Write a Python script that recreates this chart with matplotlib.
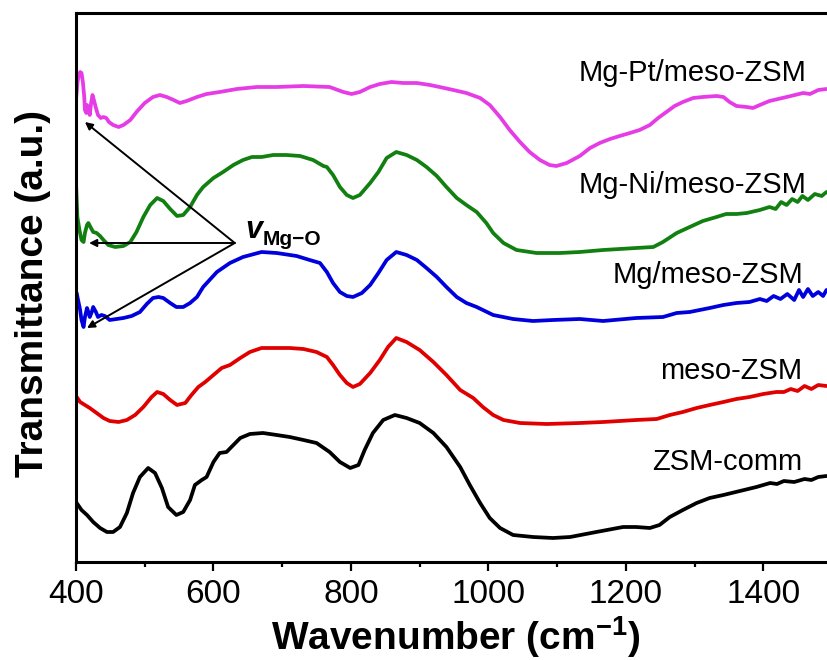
import numpy as np
from matplotlib import pyplot as plt

'''
FTIR spectra of the ZSM samples, stacked with offsets (values read off the figure)
'''

plt.rcParams['font.family'] = ['Liberation Sans', 'DejaVu Sans']
plt.rcParams['mathtext.fontset'] = 'custom'
plt.rcParams['mathtext.rm'] = 'Liberation Sans:bold'
plt.rcParams['mathtext.bf'] = 'Liberation Sans:bold'
plt.rcParams['mathtext.default'] = 'bf'

###########################################
# Data (wavenumber in cm-1, transmittance in a.u. incl. offset)
###########################################

wn_comm = [401, 408, 416, 425, 435, 445, 454, 464, 474, 483, 493, 505, 515, 525, 534, 546, 556, 566,
           573, 583, 590, 600, 609, 619, 629, 639, 653, 672, 692, 711, 731, 750, 769, 784, 799,
           811, 820, 832, 847, 864, 881, 900, 920, 939, 959, 973, 988, 1002, 1017, 1036, 1065,
           1094, 1119, 1157, 1196, 1215, 1235, 1249, 1264, 1283, 1303, 1322, 1342, 1366, 1390,
           1400, 1410, 1420, 1430, 1445, 1460, 1470, 1480, 1492]
t_comm = [59, 52, 47, 40, 34, 30, 30, 35, 49, 69, 85, 94, 89, 74, 55, 47, 50, 62,
          77, 82, 85, 100, 109, 110, 117, 124, 128, 129, 127, 125, 122, 119, 110, 100, 94,
          97, 112, 129, 142, 147, 144, 139, 129, 115, 95, 77, 59, 44, 34, 27, 25,
          24, 25, 30, 35, 35, 34, 37, 45, 52, 59, 64, 67, 71, 75,
          77, 79, 78, 81, 80, 83, 82, 85, 86]

wn_meso = [401, 406, 413, 420, 430, 440, 449, 462, 474, 486, 498, 510, 518, 527, 537, 547, 559, 568,
           578, 588, 600, 612, 624, 639, 653, 670, 692, 711, 731, 750, 765, 774, 784, 794, 803,
           813, 828, 842, 854, 866, 881, 900, 920, 939, 959, 978, 992, 1007, 1022, 1046, 1085,
           1133, 1167, 1215, 1245, 1264, 1283, 1303, 1322, 1342, 1361, 1380, 1400, 1419, 1430,
           1440, 1450, 1460, 1470, 1480, 1492]
t_meso = [165, 160, 157, 154, 149, 144, 141, 140, 142, 147, 155, 165, 170, 168, 162, 157, 159, 167,
          175, 180, 187, 194, 197, 204, 210, 214, 214, 214, 213, 210, 205, 197, 187, 179, 175,
          178, 189, 202, 215, 224, 220, 212, 200, 187, 172, 164, 155, 147, 142, 139, 138,
          139, 140, 142, 143, 147, 150, 154, 157, 160, 163, 165, 168, 170, 170,
          173, 171, 176, 173, 177, 176]

wn_mg = [401, 403, 406, 408, 411, 413, 416, 418, 420, 423, 425, 429, 432, 437, 442, 449, 459, 469,
         481, 493, 503, 512, 520, 527, 537, 546, 556, 566, 576, 585, 605, 624, 643, 670, 692,
         721, 740, 755, 765, 774, 784, 794, 803, 816, 828, 840, 852, 866, 881, 896, 910, 925,
         939, 954, 968, 983, 1007, 1036, 1065, 1094, 1133, 1167, 1215, 1254, 1274, 1293, 1322,
         1342, 1361, 1380, 1395, 1405, 1415, 1425, 1435, 1445, 1452, 1458, 1465, 1472, 1480,
         1487, 1492]
t_mg = [269, 262, 252, 242, 235, 245, 254, 250, 245, 250, 255, 250, 245, 247, 246, 242, 243, 244,
        246, 250, 258, 264, 265, 264, 259, 255, 255, 259, 265, 275, 290, 299, 305, 310, 309,
        306, 302, 299, 290, 279, 270, 266, 265, 269, 277, 289, 302, 310, 307, 302, 294, 285,
        275, 265, 259, 255, 247, 243, 241, 242, 243, 241, 244, 245, 249, 250, 254,
        257, 259, 260, 263, 261, 266, 263, 268, 262, 272, 265, 273, 266, 270,
        266, 272]

wn_ni = [400, 401, 402, 405, 408, 411, 413, 416, 418, 421, 425, 430, 435, 440, 447, 457, 469, 479,
         488, 498, 508, 518, 527, 537, 547, 556, 566, 576, 585, 600, 614, 629, 643, 656, 670,
         687, 706, 726, 745, 760, 765, 774, 784, 794, 803, 813, 828, 840, 852, 866, 881, 896,
         910, 925, 939, 954, 968, 983, 997, 1007, 1022, 1041, 1070, 1104, 1133, 1167, 1215,
         1240, 1254, 1274, 1293, 1312, 1332, 1346, 1361, 1376, 1395, 1409, 1418, 1426, 1434,
         1442, 1450, 1457, 1465, 1475, 1485, 1492]
t_ni = [379, 362, 345, 332, 322, 320, 329, 337, 339, 335, 330, 329, 326, 322, 317, 315, 316, 320,
        330, 345, 357, 364, 361, 353, 346, 347, 355, 367, 375, 384, 390, 397, 402, 405, 405,
        407, 407, 406, 402, 396, 395, 387, 375, 367, 364, 367, 379, 390, 404, 410, 407, 402,
        395, 386, 375, 364, 357, 350, 339, 329, 319, 312, 309, 309, 310, 312, 314,
        315, 320, 329, 335, 341, 345, 348, 348, 349, 352, 355, 353, 360, 357,
        363, 360, 366, 362, 368, 366, 370]

wn_pt = [400, 402, 404, 406, 408, 410, 412, 413, 415, 416, 418, 420, 422, 424, 426, 429, 432, 436,
         440, 444, 448, 454, 462, 469, 479, 488, 500, 512, 522, 532, 542, 551, 561, 576, 590,
         609, 634, 663, 692, 731, 769, 789, 801, 813, 828, 842, 859, 876, 896, 915, 929, 949,
         968, 988, 1002, 1017, 1031, 1046, 1060, 1075, 1089, 1099, 1114, 1133, 1148, 1162, 1177,
         1191, 1206, 1220, 1235, 1247, 1259, 1271, 1283, 1298, 1312, 1332, 1342, 1351, 1361,
         1376, 1385, 1395, 1409, 1434, 1458, 1468, 1480, 1492]
t_pt = [462, 479, 487, 490, 489, 480, 465, 452, 449, 457, 454, 447, 459, 467, 462, 454, 447, 444,
        445, 444, 440, 437, 435, 437, 442, 450, 459, 465, 467, 465, 462, 459, 461, 465, 468,
        470, 473, 475, 475, 476, 475, 470, 468, 470, 475, 478, 480, 479, 479, 477, 475, 472,
        469, 464, 457, 445, 432, 420, 410, 402, 397, 396, 399, 406, 414, 419, 423,
        426, 429, 432, 437, 444, 450, 456, 460, 464, 465, 466, 465, 460, 456,
        455, 454, 457, 461, 465, 469, 468, 472, 473]

names = ['ZSM-comm', 'meso-ZSM', 'Mg/meso-ZSM', 'Mg-Ni/meso-ZSM', 'Mg-Pt/meso-ZSM']
colors = ['black', '#e00000', '#0000dd', '#118011', '#e63ce6']
wns = [wn_comm, wn_meso, wn_mg, wn_ni, wn_pt]
ts = [t_comm, t_meso, t_mg, t_ni, t_pt]

# label anchors (right edge x, baseline y)
label_x = [1456, 1456, 1459, 1463, 1463]
label_y = [92, 183, 279, 369, 481]

###########################################
# Plot
###########################################

fig = plt.figure(figsize=(8.28, 6.6), dpi=100)
ax = fig.add_axes([76 / 828, 98 / 660, 756 / 828, 549 / 660])

for wn, t, c in zip(wns, ts, colors):
    ax.plot(wn, t, color=c, lw=2.7, solid_joinstyle='round', solid_capstyle='round')

for name, x, y in zip(names, label_x, label_y):
    ax.text(x, y, name, ha='right', va='baseline', fontsize=21)

# Mg-O stretching arrows
origin = (631, 319)
for tip in [(413, 440), (419, 319), (416, 234)]:
    ax.annotate('', xy=tip, xytext=origin,
                arrowprops=dict(arrowstyle='-|>', color='black', lw=1.4,
                                mutation_scale=11, shrinkA=0, shrinkB=0))
ax.text(646, 324, 'v', fontsize=22, fontweight='bold', style='italic', va='baseline')
ax.text(671, 317, 'Mg\u2212O', fontsize=15, fontweight='bold', va='baseline')

ax.set_xlim(400, 1500)
ax.set_ylim(0, 549)
ax.set_xticks([400, 600, 800, 1000, 1200, 1400])
ax.set_xticks(np.arange(500, 1501, 200), minor=True)
ax.set_yticks([])
ax.tick_params(axis='x', which='major', direction='out', length=6.5, width=1.6,
               labelsize=24, pad=6)
ax.tick_params(axis='x', which='minor', direction='out', length=3.8, width=1.6)
for sp in ax.spines.values():
    sp.set_linewidth(2.2)

fig.text(456 / 828, 10 / 660, 'Wavenumber (cm$^{-1}$)', ha='center', va='baseline',
         fontsize=28, fontweight='bold')
fig.text(33 / 828, 0.555, 'Transmittance (a.u.)', ha='center', va='center',
         rotation=90, fontsize=28, fontweight='bold')

fig.savefig('out.png', dpi=100)
